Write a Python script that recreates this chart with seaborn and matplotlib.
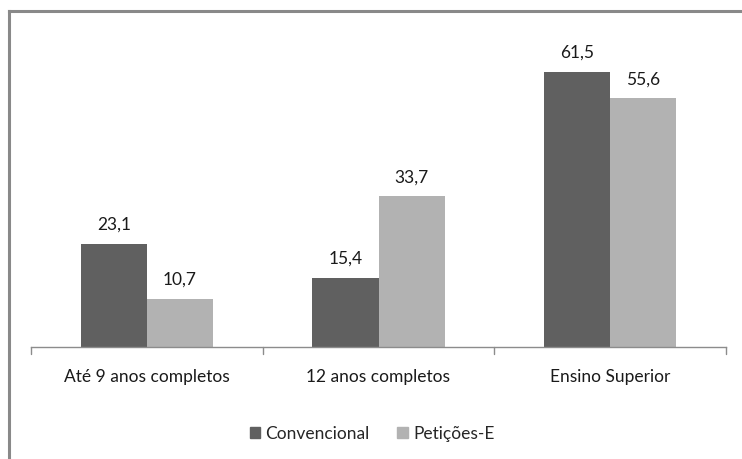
import matplotlib
matplotlib.use("Agg")
import matplotlib.pyplot as plt
import matplotlib.patches as mpatches
from matplotlib.lines import Line2D
import seaborn as sns
import pandas as pd

categorias = ["Até 9 anos completos", "12 anos completos", "Ensino Superior"]
series = ["Convencional", "Petições-E"]
convencional = [23.1, 15.4, 61.5]
peticoes = [10.7, 33.7, 55.6]
cores = ["#606060", "#b2b2b2"]

df = pd.DataFrame({
    "categoria": categorias * 2,
    "serie": [series[0]] * 3 + [series[1]] * 3,
    "valor": convencional + peticoes,
})

sns.set_theme(style="white")
plt.rcParams["font.family"] = ["Lato", "DejaVu Sans"]

W, H = 742, 459
fig = plt.figure(figsize=(W / 100, H / 100), dpi=100)
ax = fig.add_axes([31 / W, 1 - 347 / H, (726 - 31) / W, (347 - 34) / H])

sns.barplot(data=df, x="categoria", y="valor", hue="serie", order=categorias,
            hue_order=series, palette=cores, width=0.57, saturation=1,
            linewidth=0, legend=False, ax=ax)

ax.set_ylim(0, 70)
ax.set_xlim(-0.5, 2.5)
ax.set_xlabel("")
ax.set_ylabel("")
ax.set_yticks([])
for s in ["left", "right", "top"]:
    ax.spines[s].set_visible(False)
ax.spines["bottom"].set_color("#8c8c8c")
ax.spines["bottom"].set_linewidth(1.0)

# category ticks sit between groups
ax.set_xticks([0, 1, 2])
ax.set_xticklabels(categorias, fontsize=12.5, color="#1a1a1a")
ax.tick_params(axis="x", length=0, pad=16)
for xb in [-0.5, 0.5, 1.5, 2.5]:
    ax.plot([xb, xb], [0, -1.6], color="#8c8c8c", lw=1.0, clip_on=False)

for cont in ax.containers:
    ax.bar_label(cont, labels=[f"{v:.1f}".replace(".", ",") for v in cont.datavalues],
                 padding=8, fontsize=12.5, color="#1a1a1a")

handles = [mpatches.Patch(color=c, label=s) for c, s in zip(cores, series)]
fig.legend(handles=handles, loc="center", bbox_to_anchor=(372 / W, 1 - 434 / H),
           ncol=2, frameon=False, fontsize=12.5, handlelength=0.6, handleheight=0.6,
           handletextpad=0.3, columnspacing=1.6)

# chart frame: only its left and top edges fall inside the image
fx, fy = 9 / W, 1 - 11 / H
fig.add_artist(Line2D([fx, fx], [0, fy], transform=fig.transFigure,
                      color="#898989", lw=2.2, solid_capstyle="projecting"))
fig.add_artist(Line2D([fx, 1], [fy, fy], transform=fig.transFigure,
                      color="#898989", lw=2.2, solid_capstyle="projecting"))

fig.savefig("out.png", dpi=100, facecolor="white")
